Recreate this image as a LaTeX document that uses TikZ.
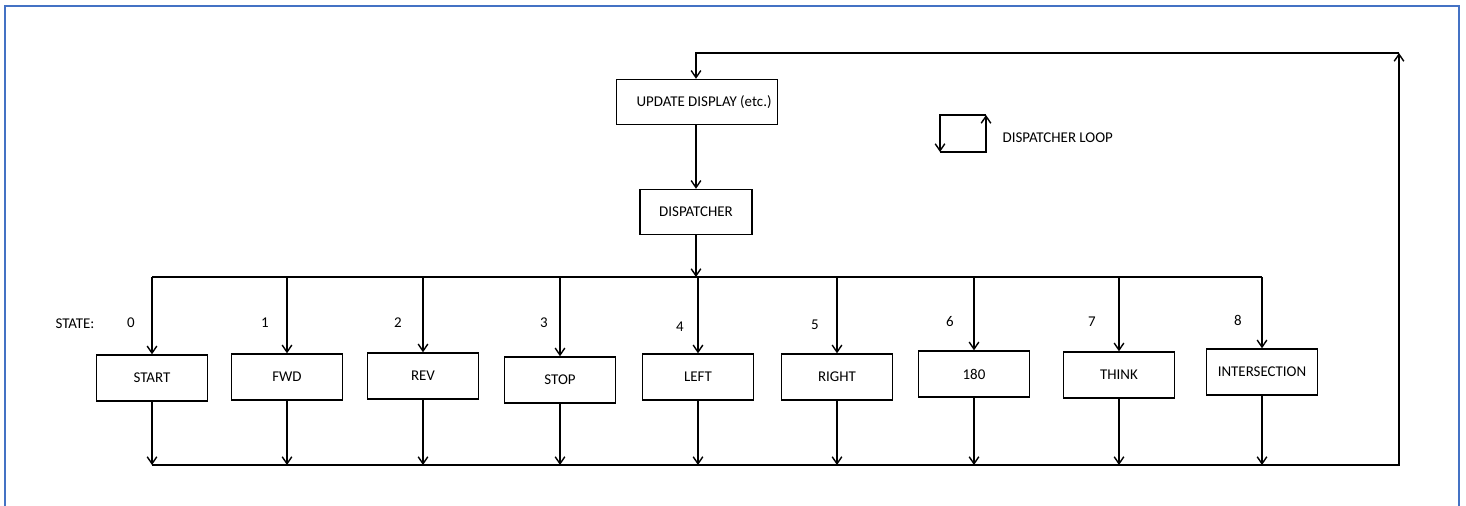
\documentclass[tikz,border=0pt]{standalone}
\usepackage{fontspec}
\setmainfont{Carlito}
\usetikzlibrary{arrows.meta}
\definecolor{framebl}{RGB}{68,114,196}
\begin{document}
\begin{tikzpicture}[x=0.02cm,y=-0.02cm,line width=0.8pt,
    font=\fontsize{8.5}{10}\selectfont,
    >={Straight Barb[length=4pt,width=5.5pt]},
    statebox/.style={draw,minimum width=2.22cm,minimum height=0.92cm,inner sep=0pt}]
        \useasboundingbox (0,0) rectangle (1466,506);
        \draw[framebl,line width=1.4pt] (5,506) -- (5,6) -- (1459,6) -- (1459,506);
        % top part
        \node[draw,minimum width=3.22cm,minimum height=0.9cm] (update) at (697,102) {\hspace{8pt}UPDATE DISPLAY (etc.)};
        \node[draw,minimum width=2.24cm,minimum height=0.9cm] (disp) at (696,212) {DISPATCHER};
        \draw[->] (update.south -| disp) to (disp);
        % legend
        \coordinate (lpBL) at (940,152);
        \coordinate (lpBR) at (986,152);
        \coordinate (lpTR) at (986,115);
        \coordinate (lpTL) at (940,115);
        \draw[->] (lpBL) -- (lpBR) -- (lpTR);
        \draw[->] (lpTR) -- (lpTL) -- (lpBL);
        \node[anchor=west] (looplbl) at (996,138) {DISPATCHER LOOP};
        % states
        \node (statelbl) at (75,324) {STATE:};
        \node[statebox] (start) at (152,378) {START};
        \node[statebox] (fwd) at (287,377) {FWD};
        \node[statebox] (rev) at (423,376) {REV};
        \node[statebox] (stop) at (560,380) {STOP};
        \node[statebox] (left) at (698,377) {LEFT};
        \node[statebox] (right) at (837,377) {RIGHT};
        \node[statebox] (oneeighty) at (974,374) {180};
        \node[statebox] (think) at (1119,375) {THINK};
        \node[statebox] (inter) at (1262,372) {INTERSECTION};
        \node (n0) at (131,323) {0};
        \node (n1) at (265,323) {1};
        \node (n2) at (398,323) {2};
        \node (n3) at (544,323) {3};
        \node (n4) at (680,327) {4};
        \node (n5) at (815,325) {5};
        \node (n6) at (950,322) {6};
        \node (n7) at (1092,322) {7};
        \node (n8) at (1238,320) {8};
        % bus to states
        \coordinate (bus) at (696,277);
        \draw[->] (disp) to (disp.south |- bus);
        \draw (start.north |- bus) to (inter.north |- bus);
        \draw[->] (start.north |- bus) to (start.north);
        \draw[->] (fwd.north |- bus) to (fwd.north);
        \draw[->] (rev.north |- bus) to (rev.north);
        \draw[->] (stop.north |- bus) to (stop.north);
        \draw[->] (left.north |- bus) to (left.north);
        \draw[->] (right.north |- bus) to (right.north);
        \draw[->] (oneeighty.north |- bus) to (oneeighty.north);
        \draw[->] (think.north |- bus) to (think.north);
        \draw[->] (inter.north |- bus) to (inter.north);
        % return path
        \coordinate (ret) at (1399,465);
        \coordinate (topR) at (1399,53);
        \draw[->] (start.south) to (start.south |- ret);
        \draw[->] (fwd.south) to (fwd.south |- ret);
        \draw[->] (rev.south) to (rev.south |- ret);
        \draw[->] (stop.south) to (stop.south |- ret);
        \draw[->] (left.south) to (left.south |- ret);
        \draw[->] (right.south) to (right.south |- ret);
        \draw[->] (oneeighty.south) to (oneeighty.south |- ret);
        \draw[->] (think.south) to (think.south |- ret);
        \draw[->] (inter.south) to (inter.south |- ret);
        \draw[->] (start.south |- ret) -- (ret) -- (topR);
        \draw[->] (topR) -- (topR -| disp) -- (update.north -| disp);
        \end{tikzpicture}
\end{document}
